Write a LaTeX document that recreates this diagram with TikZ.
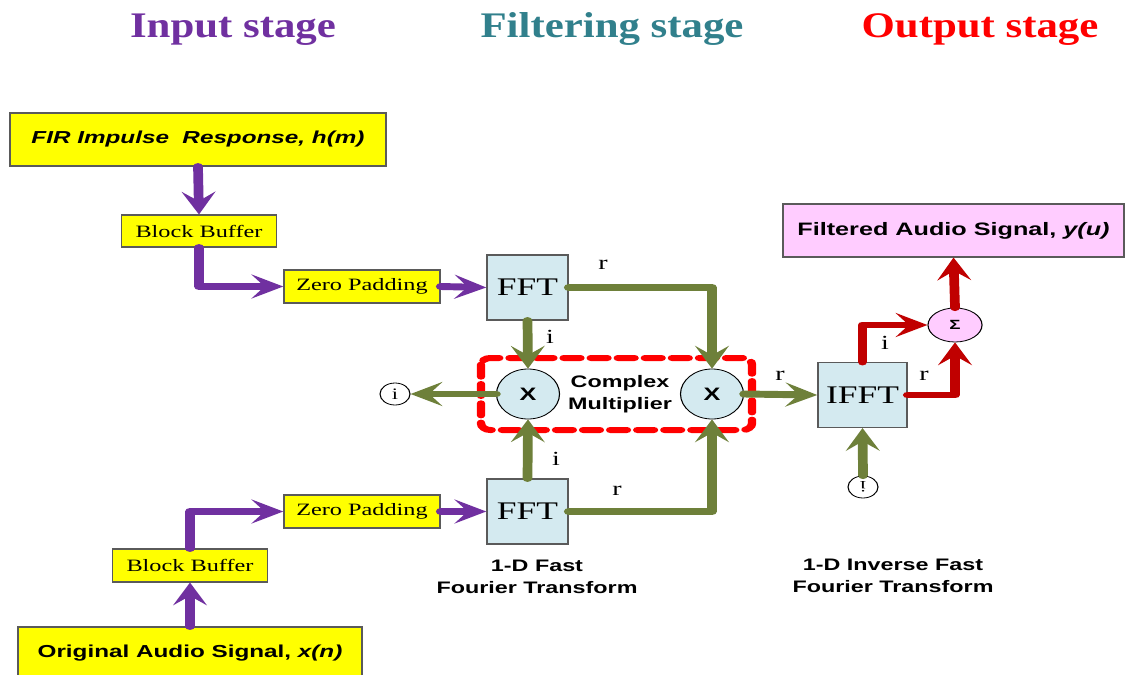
\documentclass[tikz,border=0pt]{standalone}
\usepackage{fontspec}
\setmainfont{Liberation Serif}
\setsansfont{Liberation Sans}
\newfontfamily\titlefont[FakeStretch=0.85]{Liberation Serif}
\usetikzlibrary{arrows.meta,shapes.geometric}

\definecolor{ttlpurple}{RGB}{112,48,160}
\definecolor{ttlteal}{RGB}{49,128,140}
\definecolor{ttlred}{RGB}{255,0,0}
\definecolor{flowpurple}{RGB}{112,48,160}
\definecolor{flowgreen}{RGB}{110,128,58}
\definecolor{flowred}{RGB}{192,0,0}
\definecolor{boxyellow}{RGB}{255,255,0}
\definecolor{boxblue}{RGB}{212,234,240}
\definecolor{boxpink}{RGB}{255,204,255}
\definecolor{edgegray}{RGB}{90,90,90}

\tikzset{
  % box sized in final pixel units (width is pre-stretch)
  bx/.style n args={3}{draw=edgegray, line width=0.8pt, fill=#3,
    minimum width=#1*0.535714pt, minimum height=#2*0.75pt, inner sep=0pt},
  oval/.style n args={3}{ellipse, draw=black, line width=0.6pt, fill=#3,
    minimum width=#1*0.535714pt, minimum height=#2*0.75pt, inner sep=0pt},
  stagetitle/.style={font=\titlefont\bfseries\fontsize{27}{30}\selectfont, anchor=base},
  srcfont/.style={font=\sffamily\bfseries\fontsize{13}{15}\selectfont},
  serifbox/.style={font=\fontsize{13}{15}\selectfont},
  fftfont/.style={font=\fontsize{19}{21}\selectfont},
  caption/.style={font=\sffamily\bfseries\fontsize{12.5}{17}\selectfont, align=center},
  lbl/.style={font=\fontsize{15}{15}\selectfont, inner sep=0pt},
  flow/.style={line width=5.2pt, line cap=round, line join=round,
    -{Stealth[length=17pt,width=18pt,inset=7pt]}},
  pflow/.style={flow, draw=flowpurple},
  gflow/.style={flow, draw=flowgreen},
  rflow/.style={flow, draw=flowred},
  groupbox/.style={draw=red, line width=4.5pt, dash pattern=on 9pt off 5.5pt,
    line cap=round, rounded corners=5pt},
}

\begin{document}
\begin{tikzpicture}[x=0.75pt,y=-0.75pt]
\useasboundingbox (0,0) rectangle (1125,675);
\begin{scope}[transform canvas={xscale=1.4}, x=0.535714pt, y=-0.75pt]

% stage titles
\node[stagetitle, text=ttlpurple] (tin)  at (233,37) {Input stage};
\node[stagetitle, text=ttlteal]   (tflt) at (612,37) {Filtering stage};
\node[stagetitle, text=ttlred]    (tout) at (980,37) {Output stage};

% input stage
\node[bx={376}{53}{boxyellow}, srcfont] (fir) at (198,139.5)
  {\itshape FIR Impulse\ \ Response, h(m)};
\node[bx={155}{32}{boxyellow}, serifbox] (bb1) at (199,231) {Block Buffer};
\node[bx={156}{33}{boxyellow}, serifbox] (zp1) at (362,286.5) {Zero Padding};

\node[bx={344}{52}{boxyellow}, srcfont] (orig) at (190,653)
  {Original Audio Signal, \textit{x(n)}};
\node[bx={155}{33}{boxyellow}, serifbox] (bb2) at (190,565.5) {Block Buffer};
\node[bx={156}{33}{boxyellow}, serifbox] (zp2) at (362,511.5) {Zero Padding};

% filtering stage
\node[bx={81}{65}{boxblue}, fftfont] (fft1) at (527.5,287.5) {FFT};
\node[bx={81}{65}{boxblue}, fftfont] (fft2) at (527.5,511.5) {FFT};

\draw[groupbox] (481,358) rectangle (752,430);
\node[oval={63}{50}{boxblue}, font=\sffamily\bfseries\fontsize{13.5}{15}\selectfont] (m1) at (528,394) {X};
\node[oval={63}{50}{boxblue}, font=\sffamily\bfseries\fontsize{13.5}{15}\selectfont] (m2) at (712,394) {X};
\node[font=\sffamily\bfseries\fontsize{12.5}{16.5}\selectfont, align=center] (cm) at (620,394)
  {Complex\\Multiplier};
\node[oval={30}{22}{white}, font=\fontsize{12}{12}\selectfont] (ci) at (395,394) {i};

\node[caption] (cap1) at (537,577) {1-D Fast\\Fourier Transform};

% output stage
\node[bx={89}{65}{boxblue}, fftfont] (ifft) at (862.5,395) {IFFT};
\node[oval={30}{22}{white}, font=\fontsize{12}{12}\selectfont] (cb) at (863,487) {\rotatebox{180}{i}};
\node[oval={54}{34}{boxpink}, font=\sffamily\bfseries\fontsize{10}{10}\selectfont] (sig) at (955,325) {Σ};
\node[bx={341}{53}{boxpink}, font=\sffamily\bfseries\fontsize{13.5}{15}\selectfont] (filt) at (953.5,230.5)
  {Filtered Audio Signal, \textit{y(u)}};
\node[caption] (cap2) at (893,576) {1-D Inverse Fast\\Fourier Transform};

% input stage connectors
\draw[pflow] (fir.south) -- (bb1.north);
\draw[pflow] (bb1.south) |- (zp1.west);
\draw[pflow] (zp1.east) -- (fft1.west);
\draw[pflow] (orig.north) -- (bb2.south);
\draw[pflow] (bb2.north) |- (zp2.west);
\draw[pflow] (zp2.east) -- (fft2.west);

% filtering stage connectors
\draw[gflow] (fft1.east) -| (m2.north);
\draw[gflow] (fft1.south) -- (m1.north);
\draw[gflow] (fft2.north) -- (m1.south);
\draw[gflow] (fft2.east) -| (m2.south);
\draw[gflow] (m1.west) -- (ci.east);
\draw[gflow] (m2.east) -- (ifft.west);
\draw[gflow] (cb.north) -- (ifft.south);

% output stage connectors
\draw[rflow] (ifft.north) |- (sig.west);
\draw[rflow] (ifft.east) -| (sig.south);
\draw[rflow] (sig.north) -- (filt.south);

% real / imaginary tags
\node[lbl] (r1) at (603,265) {r};
\node[lbl] (i1) at (550,337) {i};
\node[lbl] (i2) at (556,459) {i};
\node[lbl] (r2) at (617,491) {r};
\node[lbl] (r3) at (780,376) {r};
\node[lbl] (i3) at (885,343) {i};
\node[lbl] (r4) at (924,376) {r};

\end{scope}
\end{tikzpicture}
\end{document}
